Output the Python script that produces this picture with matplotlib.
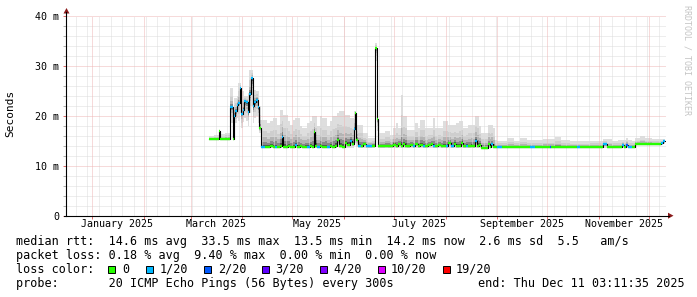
import datetime as dt
import numpy as np
import pandas as pd
import matplotlib
matplotlib.use("Agg")
import matplotlib.pyplot as plt
import matplotlib.dates as mdates
from matplotlib.patches import Polygon, Rectangle
from matplotlib.lines import Line2D

# ---------------- data (day of year 2025, step start) ----------------
doy = [70.0, 72.7, 76.0, 76.6, 79.3, 82.6, 84.1, 84.9, 85.7, 86.7,
       87.5, 88.3, 89.3, 90.3, 91.1, 92.1, 93.3, 94.1, 95.1, 96.1,
       97.1, 98.1, 99.3, 100.1, 100.9,
       103.3, 104.8, 106.3, 108.1, 109.6, 110.8, 112.3, 113.5, 114.4, 115.9,
       117.1, 118.6, 120.1, 121.6, 122.8, 124.3, 125.8, 127.3, 128.5, 130.3,
       131.8, 132.9, 133.7, 134.8, 136.3, 137.8, 139.3, 140.8, 142.3, 143.8,
       145.3, 146.8, 147.7, 149.5, 151.3, 152.8, 154.3, 155.8, 156.7, 157.3,
       158.0, 159.1, 160.9, 162.1, 163.9, 165.1, 167.5, 169.5, 170.9, 171.5,
       173.5, 175.3, 177.1, 178.3, 180.1, 181.9, 183.4, 184.9, 186.1, 187.6,
       188.8, 190.3, 192.1, 193.6, 195.1, 196.6, 198.1, 199.6, 201.1, 202.9,
       204.1, 205.6, 207.4, 208.9, 210.1, 211.9, 213.4, 214.9, 216.7, 218.2,
       219.7, 221.2, 222.4, 223.9, 225.4, 226.9, 228.4, 229.6, 230.8, 232.0,
       233.2, 235.3, 237.1, 238.3, 239.2, 240.1, 241.3,
       242.5, 245.5, 248.5, 252.7, 256.3, 260.5, 262.3, 265.3, 270.1, 274.3,
       274.9, 277.3, 280.9, 286.3, 290.5, 292.3, 298.3, 304.3, 306.1, 308.5,
       311.5, 315.1, 317.5, 318.7, 319.9, 321.1, 323.5, 325.3, 328.3, 331.3,
       335.5, 341.2, 342.4]
doy_end = 343.3

median_ms = [15.3, 15.3, 16.9, 15.3, 15.3, 21.7, 15.3, 19.9, 20.9, 22.2,
             22.5, 25.5, 20.3, 21.2, 22.9, 22.7, 20.7, 24.3, 27.5, 21.9,
             22.7, 23.2, 21.7, 17.5, 13.7,
             13.8, 13.7, 14.0, 13.7, 13.8, 13.7, 13.9, 15.7, 13.8, 13.7,
             14.0, 13.7, 13.8, 14.2, 13.7, 13.9, 13.7, 13.8, 13.7, 13.9,
             13.7, 16.7, 14.0, 13.7, 13.9, 13.7, 13.8, 13.7, 13.9, 13.7,
             14.0, 15.2, 14.0, 13.8, 14.5, 14.2, 14.9, 14.3, 17.3, 20.5,
             15.2, 14.0, 13.9, 14.4, 13.9, 13.9, 14.0, 33.5, 19.3, 13.9,
             13.9, 14.0, 13.9, 13.9, 14.2, 13.9, 14.3, 13.9, 14.4, 14.0,
             13.9, 14.1, 13.9, 14.3, 13.9, 14.2, 13.9, 13.9, 14.1, 14.4,
             13.9, 13.9, 14.1, 13.9, 14.0, 13.9, 14.5, 13.9, 14.4, 13.9,
             14.0, 14.6, 13.9, 14.0, 13.9, 14.0, 13.9, 14.9, 14.0, 14.2,
             13.5, 13.6, 14.3, 13.8, 14.3, 13.7, 13.7,
             13.7, 13.7, 13.7, 13.7, 13.7, 13.7, 13.7, 13.7, 13.7, 13.7,
             13.7, 13.7, 13.7, 13.7, 13.7, 13.7, 13.7, 13.7, 14.3, 13.7,
             13.7, 13.7, 14.2, 13.8, 14.2, 13.7, 13.7, 14.3, 14.3, 14.3,
             14.3, 14.6, 15.0]

loss_idx = [0, 0, 0, 0, 0, 1, 0, 1, 1, 1,
            1, 1, 1, 1, 1, 1, 1, 1, 1, 1,
            1, 1, 1, 0, 1,
            0, 0, 0, 0, 1, 0, 0, 1, 0, 0,
            0, 0, 0, 1, 0, 0, 0, 0, 1, 0,
            0, 0, 0, 1, 0, 0, 0, 1, 0, 0,
            0, 0, 0, 0, 0, 0, 1, 0, 1, 0,
            0, 1, 0, 0, 1, 1, 0, 0, 0, 0,
            0, 0, 0, 0, 0, 0, 0, 0, 0, 0,
            0, 0, 1, 0, 0, 0, 1, 0, 0, 0,
            1, 0, 0, 0, 0, 1, 0, 1, 0, 0,
            0, 0, 0, 1, 0, 0, 0, 1, 0, 0,
            0, 0, 0, 0, 1, 0, 0,
            1, 0, 0, 0, 0, 0, 1, 0, 0, 2,
            0, 0, 0, 0, 1, 0, 0, 0, 1, 0,
            0, 0, 1, 0, 2, 1, 0, 0, 0, 0,
            0, 1, 1]

smoke_lo = [15.2, 15.2, 15.3, 15.2, 15.2, 18.5, 15.2, 18.2, 18.5, 19.5,
            19.0, 20.5, 17.5, 18.8, 19.5, 19.0, 18.0, 20.5, 22.0, 18.5,
            19.5, 20.0, 18.5, 16.5, 13.5,
            13.5, 13.5, 13.5, 13.5, 13.5, 13.5, 13.5, 13.7, 13.5, 13.5,
            13.5, 13.5, 13.5, 13.6, 13.5, 13.5, 13.5, 13.5, 13.5, 13.5,
            13.5, 13.8, 13.5, 13.5, 13.5, 13.5, 13.5, 13.5, 13.5, 13.5,
            13.5, 13.7, 13.5, 13.5, 13.6, 13.6, 13.6, 13.6, 14.0, 14.5,
            13.7, 13.5, 13.5, 13.6, 13.5, 13.5, 13.5, 31.0, 17.0, 13.5,
            13.5, 13.5, 13.5, 13.5, 13.6, 13.5, 13.6, 13.5, 13.6, 13.5,
            13.5, 13.5, 13.5, 13.6, 13.5, 13.6, 13.5, 13.5, 13.5, 13.6,
            13.5, 13.5, 13.5, 13.5, 13.5, 13.5, 13.6, 13.5, 13.6, 13.5,
            13.5, 13.6, 13.5, 13.5, 13.5, 13.5, 13.5, 13.6, 13.5, 13.5,
            13.4, 13.4, 13.5, 13.5, 13.5, 13.5, 13.5,
            13.5, 13.5, 13.5, 13.5, 13.5, 13.5, 13.5, 13.5, 13.5, 13.5,
            13.5, 13.5, 13.5, 13.5, 13.5, 13.5, 13.5, 13.5, 13.6, 13.5,
            13.5, 13.5, 13.6, 13.5, 13.6, 13.5, 13.5, 14.1, 14.1, 14.1,
            14.1, 14.2, 14.4]

smoke_hi = [15.9, 16.2, 17.2, 16.3, 16.6, 25.5, 15.8, 23.6, 23.6, 24.0,
            26.5, 26.5, 24.9, 24.9, 23.9, 23.9, 24.5, 29.2, 29.2, 25.2,
            25.2, 25.0, 24.9, 21.9, 19.2,
            19.2, 18.5, 18.9, 19.5, 19.5, 18.2, 21.2, 21.2, 20.2, 20.2,
            19.0, 18.2, 19.2, 19.5, 19.5, 17.9, 17.5, 17.5, 18.5, 18.9,
            19.9, 19.9, 19.9, 17.9, 19.9, 19.5, 19.5, 17.9, 18.9, 19.9,
            19.9, 20.5, 20.9, 20.9, 20.2, 20.2, 19.5, 19.5, 20.9, 20.9,
            18.2, 18.2, 18.2, 16.5, 16.5, 15.5, 15.5, 34.5, 22.5, 16.5,
            16.5, 16.9, 16.9, 16.2, 17.5, 18.5, 17.5, 24.2, 19.9, 19.9,
            17.2, 17.2, 17.2, 18.5, 17.5, 19.2, 19.2, 17.5, 17.5, 17.5,
            19.5, 17.5, 17.5, 17.5, 18.9, 18.9, 18.2, 18.2, 18.2, 18.5,
            18.9, 18.9, 17.5, 17.5, 18.2, 18.2, 18.2, 19.9, 19.9, 17.9,
            16.5, 16.5, 18.2, 18.2, 18.2, 17.5, 15.2,
            15.0, 15.0, 15.5, 15.0, 15.5, 15.1, 15.1, 15.1, 15.3, 15.3,
            15.3, 15.7, 15.1, 14.9, 14.9, 14.9, 15.0, 15.0, 15.3, 15.3,
            15.0, 15.1, 15.1, 15.1, 15.5, 15.1, 15.0, 15.5, 15.9, 15.5,
            15.3, 15.3, 15.3]

loss_labels = ["0", "1/20", "2/20", "3/20", "4/20", "10/20", "19/20"]
loss_colors = ["#26ff00", "#00b8ff", "#0059ff", "#5e00ff", "#7e00ff", "#dd00ff", "#ff0000"]

y_ticks = [0, 10, 20, 30, 40]
y_tick_labels = ["0", "10 m", "20 m", "30 m", "40 m"]
x_label_months = [1, 3, 5, 7, 9, 11]
x_labels = ["January 2025", "March 2025", "May 2025", "July 2025",
            "September 2025", "November 2025"]

legend_row1 = "median rtt:  14.6 ms avg  33.5 ms max  13.5 ms min  14.2 ms now  2.6 ms sd  5.5   am/s"
legend_row2 = "packet loss: 0.18 % avg  9.40 % max  0.00 % min  0.00 % now"
legend_row3 = "loss color:"
legend_row4 = "probe:       20 ICMP Echo Pings (56 Bytes) every 300s"
legend_end = "end: Thu Dec 11 03:11:35 2025"
watermark = "RRDTOOL / TOBI OETIKER"

# ---------------- figure ----------------
W, H = 697, 297
MONO = "DejaVu Sans Mono"
fig = plt.figure(figsize=(W / 100, H / 100), dpi=100)
fig.patch.set_facecolor("white")


def fx(x):
    return x / W


def fy(y):
    return 1 - y / H


AX_L, AX_R, AX_T, AX_B = 66.0, 666.0, 16.0, 215.7
ax = fig.add_axes([fx(AX_L), fy(AX_B), (AX_R - AX_L) / W, (AX_B - AX_T) / H])
ax.set_facecolor("white")
for s in ax.spines.values():
    s.set_visible(False)

x_start = dt.datetime(2024, 12, 16, 3, 11, 35)
x_end = dt.datetime(2025, 12, 11, 3, 11, 35)
ax.set_xlim(mdates.date2num(x_start), mdates.date2num(x_end))
ax.set_ylim(0, 40)

# grid (1px dotted lines)
MINOR_C, MAJOR_C = "#dcdcdc", "#efb6b6"
dots = (0, (1, 1))
gkw = dict(lw=0.72, ls=dots, zorder=2)
for d in pd.date_range("2024-12-22", "2025-12-11", freq="W-SUN"):
    ax.axvline(mdates.date2num(d.to_pydatetime()), color=MINOR_C, **gkw)
for v in range(2, 40, 2):
    if v % 10:
        ax.axhline(v, color=MINOR_C, **gkw)
month_starts = pd.date_range("2025-01-01", "2025-12-01", freq="MS")
for d in month_starts:
    ax.axvline(mdates.date2num(d.to_pydatetime()), color=MAJOR_C, **gkw)
for v in (10, 20, 30, 40):
    ax.axhline(v, color=MAJOR_C, **gkw)

# data
base = dt.datetime(2025, 1, 1)
t = np.array([mdates.date2num(base + dt.timedelta(days=d)) for d in doy + [doy_end]])
med = np.array(median_ms)
lo = np.array(smoke_lo)
hi = np.array(smoke_hi)


def ext(a):
    return np.append(a, a[-1])


layers = [(1.0, "#dedede"), (0.6, "#cecece"), (0.36, "#b4b4b4"),
          (0.19, "#888888"), (0.08, "#505050")]
for f, c in layers:
    up = med + f * (hi - med)
    dn = med - f * (med - lo)
    ax.fill_between(t, ext(dn), ext(up), step="post", color=c, lw=0, zorder=1)

ax.step(t, ext(med), where="post", color="black", lw=0.8, zorder=3)
ax.hlines(med, t[:-1], t[1:], colors=[loss_colors[i] for i in loss_idx], lw=1.7, zorder=4)

# ticks
ax.set_xticks([mdates.date2num(d.to_pydatetime()) for d in month_starts])
ax.set_xticklabels([])
ax.tick_params(axis="x", which="major", length=2, width=0.72, color="#e07070")
ax.set_yticks(y_ticks)
ax.set_yticklabels(y_tick_labels, fontfamily=MONO, fontsize=7.2)
ax.set_yticks([v for v in range(2, 40, 2) if v % 10], minor=True)
ax.tick_params(axis="y", which="major", length=2, width=0.72, color="#e07070", pad=2.9)
ax.tick_params(axis="y", which="minor", length=2, width=0.72, color="#b0b0b0")

for m, lab in zip(x_label_months, x_labels):
    ax.text(mdates.date2num(dt.datetime(2025, m, 16)), -0.044, lab,
            transform=ax.get_xaxis_transform(), ha="center", va="center",
            fontsize=7.2, fontfamily=MONO)

# axes lines and arrows
fig.add_artist(Line2D([fx(AX_L), fx(AX_L)], [fy(AX_B + 0.5), fy(12)], color="black", lw=0.8))
fig.add_artist(Line2D([fx(AX_L - 2), fx(669)], [fy(AX_B), fy(AX_B)], color="black", lw=0.8))
ARROW_C = "#8b1a1a"
fig.add_artist(Polygon([[fx(63.5), fy(13.5)], [fx(69.5), fy(13.5)], [fx(66.5), fy(8)]],
                       closed=True, transform=fig.transFigure, color=ARROW_C, lw=0))
fig.add_artist(Polygon([[fx(668), fy(AX_B - 3)], [fx(668), fy(AX_B + 3)], [fx(673.5), fy(AX_B)]],
                       closed=True, transform=fig.transFigure, color=ARROW_C, lw=0))

# labels
fig.text(fx(10), fy(113), "Seconds", rotation=90, ha="center", va="center",
         fontsize=8, fontfamily=MONO)
fig.text(fx(687), fy(60), watermark, rotation=270, ha="center", va="center",
         fontsize=6, fontfamily=MONO, color="#c4c4c4")

# legend
LEG_FS = 8.5
rows_y = [241.7, 255.2, 269.3, 283.3]
fig.text(fx(16), fy(rows_y[0]), legend_row1, fontsize=LEG_FS, fontfamily=MONO, va="center")
fig.text(fx(16), fy(rows_y[1]), legend_row2, fontsize=LEG_FS, fontfamily=MONO, va="center")
fig.text(fx(16), fy(rows_y[2]), legend_row3, fontsize=LEG_FS, fontfamily=MONO, va="center")
fig.text(fx(16), fy(rows_y[3]), legend_row4, fontsize=LEG_FS, fontfamily=MONO, va="center")
fig.text(fx(478.3), fy(rows_y[3]), legend_end, fontsize=LEG_FS, fontfamily=MONO, va="center")

box_x = [108.3, 145.8, 204.0, 262.2, 320.0, 377.8, 442.7]
text_x = [122.7, 160.0, 217.8, 275.6, 333.3, 391.1, 455.6]
for bx, tx, lab, col in zip(box_x, text_x, loss_labels, loss_colors):
    fig.add_artist(Rectangle((fx(bx), fy(rows_y[2] + 3.8)), 7 / W, 7.6 / H,
                             transform=fig.transFigure, facecolor=col,
                             edgecolor="black", lw=0.7))
    fig.text(fx(tx), fy(rows_y[2]), lab, fontsize=LEG_FS, fontfamily=MONO, va="center")

fig.savefig("out.png", dpi=100, facecolor="white")
